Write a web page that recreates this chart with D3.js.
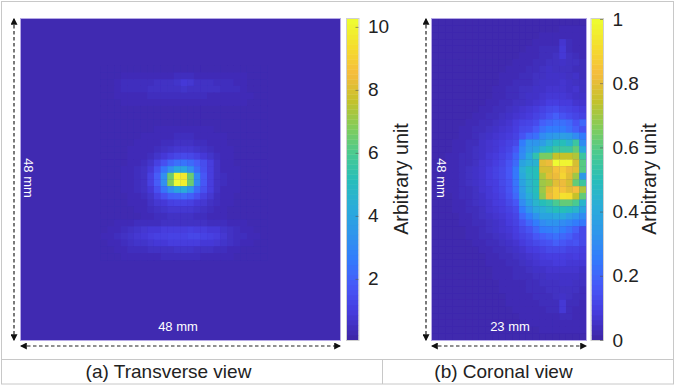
<!DOCTYPE html>
<html>
<head>
<meta charset="utf-8">
<script src="https://cdn.jsdelivr.net/npm/d3@7"></script>
<style>
html, body { margin: 0; padding: 0; background: #fff; }
svg { display: block; font-family: "Liberation Sans", Arial, sans-serif; }
</style>
</head>
<body>
<script>
var w = 675;
var h = 386;

// parula colour stops
var parulaStops = ["#3e26a8", "#463cde", "#4759f8", "#327cfc", "#2f97eb", "#2aadd8", "#28beb9", "#4aca90",
  "#84cc59", "#c5c22a", "#f5bb3d", "#f5dc2e", "#eefb30"];

// transverse view: tenths of a unit, rows 7-35 and columns 12-36, the rest is background
var transverseBackground = 2;
var transverseFirstRow = 7;
var transverseFirstCol = 12;
var transverseTenths = [
  [2,2,2,2,2,2,2,2,2,2,2,2,2,2,2,2,2,2,2,2,2,2,2,2,2],
  [2,2,2,3,3,3,3,3,3,3,3,4,4,4,3,3,3,3,3,3,3,3,2,2,2],
  [2,2,3,4,4,4,4,4,5,5,5,6,8,7,5,5,5,4,4,4,3,3,2,2,2],
  [2,2,3,4,4,4,4,5,5,5,5,5,6,5,5,5,5,5,4,4,4,3,2,2,2],
  [2,2,3,3,3,3,3,4,4,4,4,4,4,4,4,4,3,3,3,3,3,3,3,2,2],
  [2,2,2,3,3,3,3,3,3,3,3,3,3,3,3,3,3,3,3,3,3,3,2,2,2],
  [2,2,2,2,2,2,2,2,2,2,2,2,2,2,2,2,2,2,2,2,2,2,2,2,2],
  [2,2,2,2,2,2,2,2,2,2,2,2,2,2,2,2,2,2,2,2,2,2,2,2,2],
  [2,2,2,2,2,2,2,2,2,2,2,2,2,2,2,2,2,2,2,2,2,2,2,2,2],
  [2,2,2,2,2,2,2,2,3,3,3,3,3,3,3,3,3,2,2,2,2,2,2,2,2],
  [2,2,2,2,2,2,3,3,3,3,3,4,4,4,3,3,3,3,3,2,2,2,2,2,2],
  [2,2,2,2,2,3,3,3,3,4,4,5,5,5,4,4,3,3,3,2,2,2,2,2,2],
  [2,2,2,2,3,3,3,3,4,5,6,7,7,7,6,5,4,3,3,3,2,2,2,2,2],
  [2,2,2,2,3,3,3,4,6,8,10,12,13,12,10,8,6,4,3,3,2,2,2,2,2],
  [2,2,2,2,3,3,4,6,10,15,20,23,24,22,18,14,9,5,3,3,2,2,2,2,2],
  [2,2,2,3,3,4,5,8,15,24,32,40,40,32,22,15,9,5,3,3,3,2,2,2,2],
  [2,2,2,3,3,4,5,10,18,32,65,100,97,65,30,17,9,5,4,3,3,2,2,2,2],
  [2,2,2,3,3,4,5,10,18,32,68,102,99,65,30,17,9,5,4,3,3,2,2,2,2],
  [2,2,2,3,3,4,5,8,15,24,32,40,42,34,22,15,9,5,3,3,3,2,2,2,2],
  [2,2,2,2,3,3,4,6,10,15,19,20,21,19,15,10,7,4,3,3,2,2,2,2,2],
  [2,2,2,2,3,3,3,5,7,8,10,11,11,10,8,7,5,4,3,3,2,2,2,2,2],
  [2,2,2,2,2,3,3,4,5,6,7,7,7,7,6,5,4,3,3,2,2,2,2,2,2],
  [2,2,2,2,2,2,3,3,4,4,5,5,5,5,4,4,3,3,3,2,2,2,2,2,2],
  [2,2,3,3,3,4,4,4,4,5,5,5,5,5,5,5,4,4,4,3,3,3,2,2,2],
  [2,3,3,4,5,6,7,8,8,9,9,9,9,10,9,9,8,8,6,5,4,3,3,2,2],
  [3,3,4,5,6,7,8,9,10,10,11,11,11,12,12,11,10,9,7,5,4,4,3,3,2],
  [2,3,3,4,5,6,6,7,8,8,9,9,9,9,9,8,8,7,6,5,4,3,3,2,2],
  [2,2,3,3,4,4,4,5,5,5,5,6,6,6,5,5,5,4,4,3,3,2,2,2,2],
  [2,2,2,3,3,3,3,3,3,4,4,4,4,4,4,3,3,3,3,3,2,2,2,2,2]
];
var transverseRowCount = 48;
var transverseColCount = 48;

// coronal view: percent of the maximum, 48 rows by 23 columns
var coronalPercent = [
  [1,1,1,1,1,1,1,1,1,1,1,1,1,1,1,1,1,1,1,1,1,1,1],
  [1,1,1,1,1,1,1,1,1,1,1,1,1,1,1,1,1,1,1,2,2,2,2],
  [1,1,1,1,1,1,1,1,1,1,1,1,1,1,1,1,2,2,2,2,2,2,2],
  [1,1,1,1,1,1,1,1,1,1,1,1,1,1,1,2,2,2,2,6,3,2,2],
  [1,1,1,1,1,1,1,1,1,1,1,1,1,1,2,2,3,3,3,7,3,2,2],
  [1,1,1,1,1,1,1,1,1,1,1,1,1,2,2,2,3,3,4,7,4,3,2],
  [1,1,1,1,1,1,1,1,1,1,1,1,2,2,2,3,3,4,4,5,4,4,3],
  [1,1,1,1,1,1,1,1,1,1,1,2,2,2,3,3,4,5,4,4,4,3,3],
  [1,1,1,1,1,1,1,1,1,1,2,2,2,3,3,4,4,5,5,5,4,5,3],
  [1,1,1,1,1,1,1,1,1,1,2,2,3,3,3,4,5,5,5,6,5,4,4],
  [1,1,1,1,1,1,1,1,1,2,2,3,3,4,4,5,5,6,6,6,5,6,4],
  [1,1,1,1,1,1,1,1,1,2,2,3,3,4,5,5,6,7,7,7,6,5,5],
  [1,1,1,1,1,1,1,1,2,2,3,3,4,4,5,6,7,9,9,8,8,6,6],
  [1,1,1,1,1,1,1,2,2,3,3,4,5,6,7,8,10,12,13,11,10,9,8],
  [1,1,1,1,1,1,2,2,3,3,4,5,6,7,8,10,12,15,18,15,13,11,10],
  [1,1,1,1,1,2,2,3,3,4,5,6,8,10,11,13,18,20,22,22,20,15,20],
  [1,1,1,1,2,2,3,3,4,5,6,7,9,12,13,17,22,25,25,25,22,18,15],
  [1,1,1,1,2,2,3,4,5,6,7,8,10,15,20,22,30,33,35,36,35,30,25],
  [1,1,1,2,2,3,3,5,6,7,8,10,12,25,33,33,36,42,48,50,45,55,30],
  [1,1,1,2,2,3,4,5,6,7,9,11,16,28,35,38,45,50,55,55,55,62,40],
  [1,1,2,2,3,3,4,5,7,8,10,13,19,30,40,52,65,65,75,75,75,72,55],
  [1,1,2,2,3,3,4,6,7,9,11,15,21,38,42,44,80,82,100,98,98,78,60],
  [1,1,2,2,3,4,5,6,8,10,12,16,24,42,48,50,78,78,85,88,82,80,60],
  [1,1,2,2,3,4,5,6,8,10,12,16,24,40,47,50,72,80,82,90,80,70,35],
  [1,1,2,2,3,4,5,6,8,9,12,15,23,38,45,50,70,72,80,82,78,62,55],
  [1,1,2,2,3,3,4,6,7,9,11,15,22,36,45,50,70,80,88,85,80,84,72],
  [1,1,1,2,3,3,4,5,7,8,10,14,20,34,42,48,68,82,88,93,92,75,62],
  [1,1,1,2,2,3,4,5,6,8,9,12,16,30,38,45,50,52,58,62,62,58,45],
  [1,1,1,2,2,3,3,4,6,7,8,10,13,25,33,40,42,46,50,50,48,45,38],
  [1,1,1,1,2,2,3,4,5,6,7,9,11,20,26,32,38,38,40,40,36,33,30],
  [1,1,1,1,2,2,3,3,4,5,6,8,10,15,20,25,30,32,32,30,28,25,24],
  [1,1,1,1,1,2,2,3,4,5,6,7,9,12,15,20,25,26,28,25,22,18,12],
  [1,1,1,1,1,2,2,3,3,4,5,6,8,10,12,16,18,20,22,20,18,14,12],
  [1,1,1,1,1,1,2,2,3,3,4,5,6,8,10,12,14,15,18,16,14,15,12],
  [1,1,1,1,1,1,1,2,2,3,3,4,5,6,8,9,10,12,12,12,10,10,9],
  [1,1,1,1,1,1,1,1,2,2,3,3,4,5,6,7,8,9,9,9,8,9,8],
  [1,1,1,1,1,1,1,1,2,2,2,3,3,4,5,6,7,7,8,8,7,7,7],
  [1,1,1,1,1,1,1,1,1,2,2,2,3,3,4,5,5,6,6,6,6,6,5],
  [1,1,1,1,1,1,1,1,1,2,2,2,3,3,3,4,4,5,5,5,5,5,4],
  [1,1,1,1,1,1,1,1,1,1,2,2,2,2,3,3,4,4,4,5,5,4,4],
  [1,1,1,1,1,1,1,1,1,1,2,2,2,2,3,3,3,4,4,4,4,4,3],
  [1,1,1,1,1,1,1,1,1,1,1,2,2,2,2,3,3,3,4,5,4,3,3],
  [1,1,1,1,1,1,1,1,1,1,1,2,2,2,2,2,3,3,3,7,3,3,2],
  [1,1,1,1,1,1,1,1,1,1,1,1,2,2,2,2,2,3,3,7,3,2,2],
  [1,1,1,1,1,1,1,1,1,1,1,1,1,2,2,2,2,2,2,3,3,2,2],
  [1,1,1,1,1,1,1,1,1,1,1,1,1,1,2,2,2,2,2,2,2,2,2],
  [1,1,1,1,1,1,1,1,1,1,1,1,1,1,1,1,2,2,2,2,2,2,2],
  [1,1,1,1,1,1,1,1,1,1,1,1,1,1,1,1,1,1,1,1,1,1,1]
];

var transverseTicks = [2, 4, 6, 8, 10];
var coronalTicks = [0, 0.2, 0.4, 0.6, 0.8, 1];
var transverseRange = [0.06, 10.25];
var coronalRange = [0, 1];
var widthLabels = ["48 mm", "23 mm"];
var heightLabel = "48 mm";
var barTitle = "Arbitrary unit";
var captions = ["(a) Transverse view", "(b) Coronal view"];

var svg = d3.select("body").append("svg").attr("width", w).attr("height", h);

var defs = svg.append("defs");
defs.append("marker")
  .attr("id", "arrow")
  .attr("viewBox", "0 0 6 6")
  .attr("refX", 5)
  .attr("refY", 3)
  .attr("markerWidth", 7)
  .attr("markerHeight", 7)
  .attr("markerUnits", "userSpaceOnUse")
  .attr("orient", "auto-start-reverse")
  .append("path")
  .attr("d", "M0,0L6,3L0,6Z")
  .attr("fill", "#111");

defs.append("filter")
  .attr("id", "soft")
  .attr("x", 0)
  .attr("y", 0)
  .attr("width", 1)
  .attr("height", 1)
  .append("feGaussianBlur")
  .attr("stdDeviation", 0.5);

var parula = d3.scaleLinear()
  .domain(d3.range(parulaStops.length).map(function (i) { return i / (parulaStops.length - 1); }))
  .range(parulaStops);

var plotTop = 19;
var plotBottom = 340;

// flatten a matrix of rows into cells
function cellsOf(rows, rowStart, colStart, factor) {
  var cells = [];
  rows.forEach(function (row, r) {
    row.forEach(function (v, c) {
      cells.push({ row: r + rowStart, col: c + colStart, value: v * factor });
    });
  });
  return cells;
}

function drawPanel(cells, rowCount, colCount, range, x0, x1, background) {
  var x = d3.scaleBand().domain(d3.range(colCount)).range([x0, x1]);
  var y = d3.scaleBand().domain(d3.range(rowCount)).range([plotTop, plotBottom]);
  var color = d3.scaleLinear().domain(range).range([0, 1]).clamp(true);
  var g = svg.append("g").attr("filter", "url(#soft)");
  g.append("rect")
    .attr("x", x0)
    .attr("y", plotTop)
    .attr("width", x1 - x0)
    .attr("height", plotBottom - plotTop)
    .attr("fill", parula(color(background)));
  g.selectAll("rect.cell")
    .data(cells)
    .enter()
    .append("rect")
    .attr("class", "cell")
    .attr("x", function (d) { return x(d.col); })
    .attr("y", function (d) { return y(d.row); })
    .attr("width", x.bandwidth() + 0.3)
    .attr("height", y.bandwidth() + 0.3)
    .attr("fill", function (d) { return parula(color(d.value)); });
  svg.append("rect")
    .attr("x", x0 - 0.5)
    .attr("y", plotTop - 0.5)
    .attr("width", x1 - x0 + 1)
    .attr("height", plotBottom - plotTop + 1)
    .attr("fill", "none")
    .attr("stroke", "#b5a8e6")
    .attr("stroke-width", 1);
}

function drawBar(range, ticks, x0, titleX) {
  var barW = 11.5;
  var y = d3.scaleLinear().domain(range).range([plotBottom, plotTop]);
  var steps = d3.range(0, 64);
  var stepH = (plotBottom - plotTop) / steps.length;
  svg.append("g")
    .selectAll("rect")
    .data(steps)
    .enter()
    .append("rect")
    .attr("x", x0)
    .attr("y", function (d) { return plotBottom - (d + 1) * stepH; })
    .attr("width", barW)
    .attr("height", stepH + 0.4)
    .attr("fill", function (d) { return parula(d / 63); });
  svg.append("rect")
    .attr("x", x0 - 0.5)
    .attr("y", plotTop - 0.5)
    .attr("width", barW + 1)
    .attr("height", plotBottom - plotTop + 1)
    .attr("fill", "none")
    .attr("stroke", "#cfcfcf")
    .attr("stroke-width", 1);
  var axis = d3.axisRight(y)
    .tickValues(ticks)
    .tickSizeInner(-3)
    .tickSizeOuter(0)
    .tickPadding(9.5)
    .tickFormat(function (d) { return d; });
  var ag = svg.append("g")
    .attr("transform", "translate(" + (x0 + barW) + ",0)")
    .call(axis);
  ag.select(".domain").remove();
  ag.selectAll("line").attr("stroke", "#555").attr("stroke-opacity", 0.6);
  ag.selectAll("text")
    .attr("font-size", 19)
    .attr("font-family", "Liberation Sans, Arial, sans-serif")
    .attr("fill", "#222");
  svg.append("text")
    .attr("transform", "translate(" + titleX + ",179) rotate(-90)")
    .attr("text-anchor", "middle")
    .attr("font-size", 19.7)
    .attr("fill", "#222")
    .text(barTitle);
}

function dashed(x1, y1, x2, y2) {
  svg.append("line")
    .attr("x1", x1)
    .attr("y1", y1)
    .attr("x2", x2)
    .attr("y2", y2)
    .attr("stroke", "#222")
    .attr("stroke-width", 1.2)
    .attr("stroke-dasharray", "3.5 2.5")
    .attr("marker-start", "url(#arrow)")
    .attr("marker-end", "url(#arrow)");
}

function whiteLabel(str, x, y, rotate) {
  svg.append("text")
    .attr("transform", "translate(" + x + "," + y + ")" + (rotate ? " rotate(90)" : ""))
    .attr("text-anchor", "middle")
    .attr("dominant-baseline", "middle")
    .attr("font-size", 13)
    .attr("fill", "#fff")
    .text(str);
}

drawPanel(
  cellsOf(transverseTenths, transverseFirstRow, transverseFirstCol, 0.1),
  transverseRowCount, transverseColCount, transverseRange, 21, 340, transverseBackground * 0.1
);
drawPanel(cellsOf(coronalPercent, 0, 0, 0.01), coronalPercent.length, coronalPercent[0].length, coronalRange, 432, 586, 0.01);

drawBar(transverseRange, transverseTicks, 347, 408);
drawBar(coronalRange, coronalTicks, 591.5, 656);

dashed(14, plotTop, 14, plotBottom);
dashed(21, 346, 340, 346);
dashed(426, plotTop, 426, plotBottom);
dashed(432, 346, 586, 346);

whiteLabel(heightLabel, 27, 178, true);
whiteLabel(heightLabel, 440, 178, true);
whiteLabel(widthLabels[0], 178, 328, false);
whiteLabel(widthLabels[1], 510, 328, false);

// frame round the figure and caption row
var frame = svg.append("g").attr("stroke", "#c8c8c8").attr("stroke-width", 1).attr("fill", "none");
frame.append("rect").attr("x", 1.5).attr("y", 1.5).attr("width", 672).attr("height", 382.5);
frame.append("line").attr("x1", 1.5).attr("y1", 359.5).attr("x2", 673.5).attr("y2", 359.5);
frame.append("line").attr("x1", 382.5).attr("y1", 359.5).attr("x2", 382.5).attr("y2", 384);

svg.append("g")
  .selectAll("text")
  .data(captions)
  .enter()
  .append("text")
  .attr("x", function (d, i) { return i === 0 ? 168.5 : 503.5; })
  .attr("y", 378)
  .attr("text-anchor", "middle")
  .attr("font-size", 19)
  .attr("fill", "#222")
  .text(function (d) { return d; });
</script>
</body>
</html>
